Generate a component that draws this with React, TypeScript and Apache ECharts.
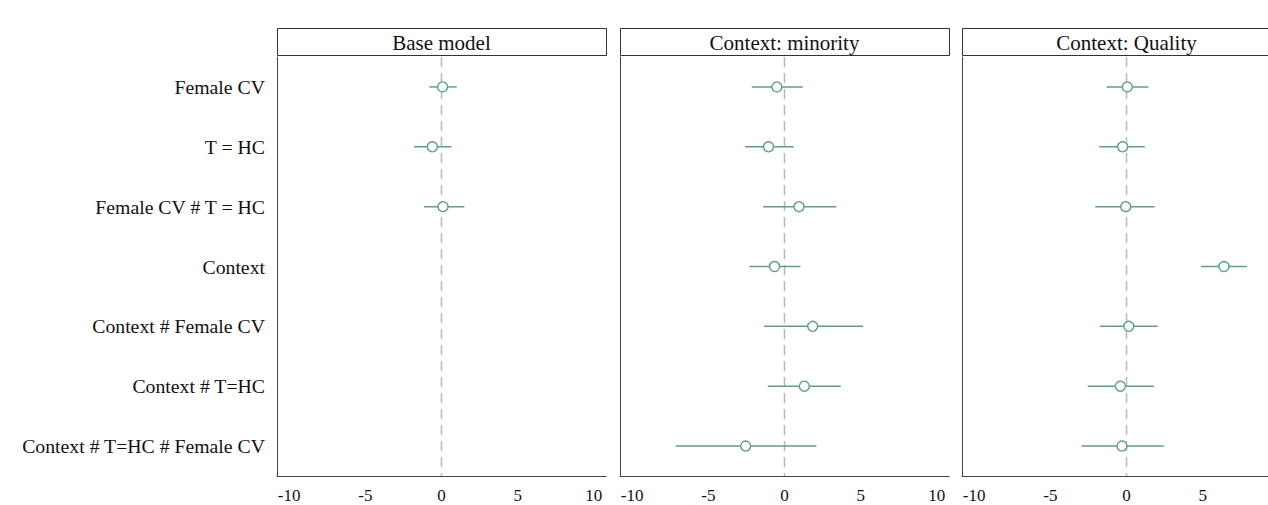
import React, { useEffect, useRef } from "react";
import * as echarts from "echarts";

const categories = [
  "Female CV",
  "T = HC",
  "Female CV # T = HC",
  "Context",
  "Context # Female CV",
  "Context # T=HC",
  "Context # T=HC # Female CV",
];
const panelTitles = ["Base model", "Context: minority", "Context: Quality"];
const xTicks = [-10, -5, 0, 5, 10];
const xTicksLastPanel = [-10, -5, 0, 5];
const refLine = [0];

// Base model
const baseEst = [0.07, -0.6, 0.1, null, null, null, null];
const baseLo = [-0.8, -1.8, -1.15, null, null, null, null];
const baseHi = [1.0, 0.65, 1.5, null, null, null, null];
// Context: minority
const minEst = [-0.5, -1.05, 0.95, -0.65, 1.85, 1.3, -2.55];
const minLo = [-2.15, -2.6, -1.4, -2.3, -1.35, -1.1, -7.15];
const minHi = [1.2, 0.6, 3.4, 1.05, 5.15, 3.7, 2.1];
// Context: Quality
const qualEst = [0.05, -0.25, -0.05, 6.4, 0.15, -0.4, -0.3];
const qualLo = [-1.3, -1.8, -2.05, 4.9, -1.75, -2.55, -2.95];
const qualHi = [1.43, 1.2, 1.85, 7.9, 2.05, 1.8, 2.45];

const panelsData = [
  { est: baseEst, lo: baseLo, hi: baseHi },
  { est: minEst, lo: minLo, hi: minHi },
  { est: qualEst, lo: qualLo, hi: qualHi },
];

const COLOR = "#5c9f8a";
const FONT = "'Liberation Serif', 'Times New Roman', serif";

export default function App() {
  const ref = useRef<HTMLDivElement>(null);
  useEffect(() => {
    if (!ref.current) return;
    const chart = echarts.init(ref.current, null, { renderer: "svg" });
    const lefts = [277, 620, 962];
    const gridW = 329;
    const gridTop = 57;
    const gridH = 419;

    const grid = lefts.map((l) => ({
      left: l,
      top: gridTop,
      width: gridW,
      height: gridH,
      containLabel: false,
      outerBoundsMode: "none",
    }));
    const xAxis = lefts.map((_, i) => ({
      type: "value",
      gridIndex: i,
      min: -10.8,
      max: 10.8,
      splitLine: { show: false },
      axisTick: { show: false },
      axisLine: { show: true, onZero: false, lineStyle: { color: "#444", width: 1 } },
      axisLabel: {
        customValues: i === 2 ? xTicksLastPanel : xTicks,
        color: "#111",
        fontFamily: FONT,
        fontSize: 17,
        margin: 11,
      },
    }));
    const yAxis = lefts.map((_, i) => ({
      type: "category",
      gridIndex: i,
      data: categories,
      inverse: true,
      boundaryGap: true,
      axisTick: { show: false },
      splitLine: { show: false },
      axisLine: { show: true, onZero: false, lineStyle: { color: "#444", width: 1 } },
      axisLabel: {
        show: i === 0,
        color: "#111",
        fontFamily: FONT,
        fontSize: 19.75,
        margin: 12,
      },
    }));

    const series: any[] = [];
    panelsData.forEach((p, i) => {
      series.push({
        type: "custom",
        xAxisIndex: i,
        yAxisIndex: i,
        z: 1,
        silent: true,
        data: refLine.map((v) => [v]),
        renderItem: (params: any, api: any) => {
          const cs = params.coordSys;
          const x = api.coord([api.value(0), 0])[0];
          return {
            type: "line",
            shape: { x1: x, y1: cs.y, x2: x, y2: cs.y + cs.height },
            style: { stroke: "#b8b8b8", lineWidth: 1.5, lineDash: [10, 6] },
          };
        },
      });
      const ci: any[] = [];
      const pts: any[] = [];
      p.est.forEach((e, k) => {
        if (e === null) return;
        ci.push([p.lo[k], p.hi[k], k]);
        pts.push([e, k]);
      });
      series.push({
        type: "custom",
        xAxisIndex: i,
        yAxisIndex: i,
        z: 2,
        data: ci,
        renderItem: (params: any, api: any) => {
          const a = api.coord([api.value(0), api.value(2)]);
          const b = api.coord([api.value(1), api.value(2)]);
          return {
            type: "line",
            shape: { x1: a[0], y1: a[1], x2: b[0], y2: b[1] },
            style: { stroke: COLOR, lineWidth: 1.5 },
          };
        },
      });
      series.push({
        type: "scatter",
        xAxisIndex: i,
        yAxisIndex: i,
        z: 3,
        data: pts,
        symbol: "circle",
        symbolSize: 10,
        itemStyle: { color: "#ffffff", borderColor: COLOR, borderWidth: 1.4, opacity: 1 },
      });
    });

    const graphic: any[] = [];
    lefts.forEach((l, i) => {
      graphic.push({
        type: "rect",
        shape: { x: l + 0.5, y: 28.5, width: gridW, height: 27 },
        style: { fill: "#fff", stroke: "#333", lineWidth: 1 },
      });
      graphic.push({
        type: "text",
        x: l + gridW / 2,
        y: 43,
        style: {
          text: panelTitles[i],
          fill: "#111",
          font: `21px ${FONT}`,
          textAlign: "center",
          textVerticalAlign: "middle",
        },
      });
    });

    chart.setOption({
      animation: false,
      backgroundColor: "#fff",
      grid,
      xAxis,
      yAxis,
      series,
      graphic,
    });
    return () => chart.dispose();
  }, []);
  return (
    <div
      ref={ref}
      style={{ position: "absolute", left: 0, top: 0, width: 1268, height: 505 }}
    />
  );
}
